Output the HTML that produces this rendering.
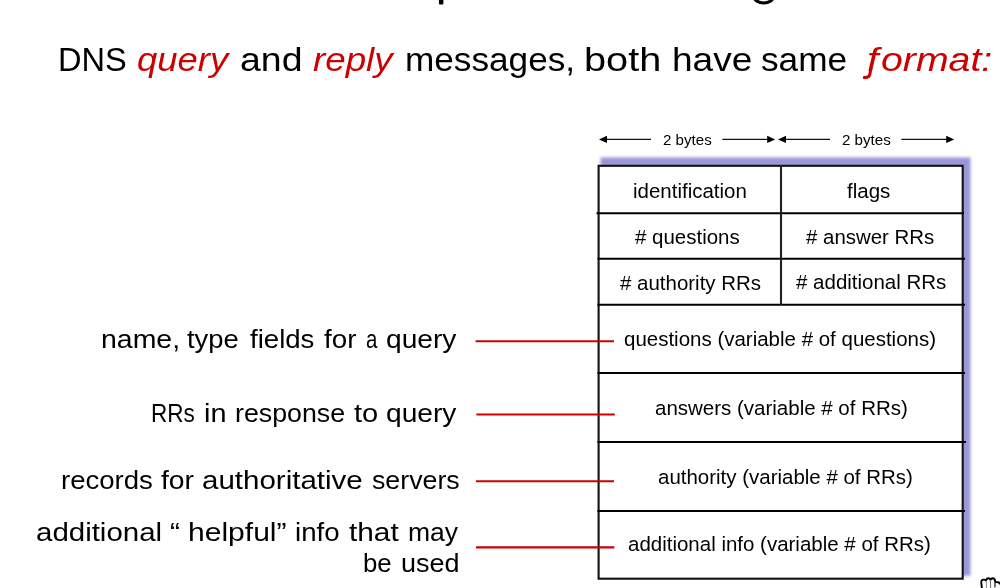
<!DOCTYPE html>
<html><head><meta charset="utf-8">
<style>
html,body{margin:0;padding:0;background:#fff;}
body{width:1000px;height:588px;position:relative;overflow:hidden;font-family:"Liberation Sans",sans-serif;color:#000;}
.t{position:absolute;white-space:nowrap;line-height:1;transform-origin:0 0;}
svg{position:absolute;left:0;top:0;}
</style></head><body>
<svg width="1000" height="588" viewBox="0 0 1000 588">
  <defs><filter id="bl" x="-5%" y="-5%" width="110%" height="110%"><feGaussianBlur stdDeviation="1.6"/></filter></defs>
  <!-- cut-off title descenders -->
  <rect x="438.9" y="-5" width="4.5" height="9.4" rx="1" fill="#000"/>
  <ellipse cx="763.7" cy="-3" rx="9.4" ry="6" fill="none" stroke="#000" stroke-width="3.2"/>
  <path d="M870.8 69 L869.9 74.3 Q869.3 77.9 864.3 77.5" fill="none" stroke="#cc0000" stroke-width="3.0" stroke-linecap="round"/>
  <!-- shadow -->
  <rect x="600.5" y="157.4" width="370" height="418.4" fill="#9a97d9" filter="url(#bl)"/>
  <!-- table -->
  <rect x="598.6" y="165.8" width="364.1" height="412.9" fill="#fff" stroke="#111" stroke-width="2.1"/>
  <g stroke="#000" stroke-width="2" fill="none">
    <line x1="596.5" y1="213.2" x2="964" y2="213.2"/>
    <line x1="597.5" y1="258.8" x2="965" y2="258.8"/>
    <line x1="597.5" y1="304.8" x2="965" y2="304.8"/>
    <line x1="597.5" y1="373.0" x2="965" y2="373.0"/>
    <line x1="597.5" y1="441.95" x2="966" y2="441.95"/>
    <line x1="597.5" y1="510.95" x2="965" y2="510.95"/>
    <line x1="781.0" y1="165" x2="781.0" y2="304.8" stroke="#222" stroke-width="2.1"/>
  </g>
  <g stroke="#cc0000" stroke-width="2.1">
    <line x1="475.6" y1="341.25" x2="614" y2="341.25"/>
    <line x1="476.4" y1="414.55" x2="614.8" y2="414.55"/>
    <line x1="476" y1="481.2" x2="614" y2="481.2"/>
    <line x1="476" y1="547.4" x2="614.3" y2="547.4"/>
  </g>
  <g stroke="#111" stroke-width="1.15" fill="#000">
    <line x1="605" y1="139.4" x2="651" y2="139.4"/>
    <line x1="722.4" y1="139.4" x2="769" y2="139.4"/>
    <line x1="784" y1="139.4" x2="830" y2="139.4"/>
    <line x1="901.4" y1="139.4" x2="948" y2="139.4"/>
    <path d="M599 139.4 l8 -3.6 v7.2z" stroke="none"/>
    <path d="M775.2 139.4 l-8 -3.6 v7.2z" stroke="none"/>
    <path d="M778 139.4 l8 -3.6 v7.2z" stroke="none"/>
    <path d="M954.2 139.4 l-8 -3.6 v7.2z" stroke="none"/>
  </g>
  <!-- grab cursor -->
  <g fill="#fff" stroke="#000" stroke-width="1.9" stroke-linejoin="round" stroke-linecap="round" transform="translate(0,0.9)">
    <path d="M982.2 590 L981.3 582 Q981.1 578.8 983.4 578.7 Q985.2 578.6 986.1 579.6 Q986.6 577.3 988.2 577.3 Q989.9 577.3 990.5 578.9 Q991.1 577.4 992.8 577.4 Q995 577.5 995.3 581 Q996.6 581.2 998 581.3 Q1000.2 581.6 1001 584.5 L1001 590 Z"/>
  </g>
  <g stroke-linecap="round" fill="none" transform="translate(0,0.9)">
    <line x1="986.2" y1="580" x2="986.6" y2="588" stroke="#8a8a8a" stroke-width="1"/>
    <line x1="990.5" y1="579.4" x2="990.6" y2="588" stroke="#777" stroke-width="1.1"/>
    <line x1="995.1" y1="581" x2="994.9" y2="586" stroke="#222" stroke-width="1.3"/>
  </g>
</svg>
<div class="t" style="left:57.56px;top:42.74px;font-size:33.5px;transform:scaleX(0.9720);">DNS</div>
<div class="t" style="left:136.91px;top:42.74px;font-size:33.5px;transform:scaleX(1.0876);font-style:italic;color:#cc0000;">query</div>
<div class="t" style="left:240.13px;top:42.74px;font-size:33.5px;transform:scaleX(1.1171);">and</div>
<div class="t" style="left:313.00px;top:42.74px;font-size:33.5px;transform:scaleX(1.0954);font-style:italic;color:#cc0000;">reply</div>
<div class="t" style="left:404.60px;top:42.74px;font-size:33.5px;transform:scaleX(1.0502);">messages,</div>
<div class="t" style="left:583.88px;top:42.74px;font-size:33.5px;transform:scaleX(1.1857);">both</div>
<div class="t" style="left:671.54px;top:42.74px;font-size:33.5px;transform:scaleX(1.1069);">have</div>
<div class="t" style="left:760.50px;top:42.74px;font-size:33.5px;transform:scaleX(1.0518);">same</div>
<div class="t" style="left:867.37px;top:42.74px;font-size:33.5px;transform:scaleX(1.2333);font-style:italic;color:#cc0000;">f</div>
<div class="t" style="left:880.83px;top:42.74px;font-size:33.5px;transform:scaleX(1.1713);font-style:italic;color:#cc0000;">ormat:</div>
<div class="t" style="left:632.50px;top:180.75px;font-size:20.5px;transform:scaleX(0.9995);">identification</div>
<div class="t" style="left:846.70px;top:180.75px;font-size:20.5px;transform:scaleX(1.0011);">flags</div>
<div class="t" style="left:635.20px;top:226.75px;font-size:20.5px;transform:scaleX(0.9990);"># questions</div>
<div class="t" style="left:806.00px;top:226.75px;font-size:20.5px;transform:scaleX(0.9962);"># answer RRs</div>
<div class="t" style="left:619.80px;top:272.75px;font-size:20.5px;transform:scaleX(0.9984);"># authority RRs</div>
<div class="t" style="left:796.00px;top:271.75px;font-size:20.5px;transform:scaleX(0.9996);"># additional RRs</div>
<div class="t" style="left:624.40px;top:328.75px;font-size:20.5px;transform:scaleX(0.9993);">questions (variable # of questions)</div>
<div class="t" style="left:655.40px;top:397.75px;font-size:20.5px;transform:scaleX(0.9996);">answers (variable # of RRs)</div>
<div class="t" style="left:658.20px;top:466.75px;font-size:20.5px;transform:scaleX(0.9985);">authority (variable # of RRs)</div>
<div class="t" style="left:628.00px;top:533.75px;font-size:20.5px;transform:scaleX(0.9991);">additional info (variable # of RRs)</div>
<div class="t" style="left:663.00px;top:132.06px;font-size:15.4px;transform:scaleX(0.9815);">2 bytes</div>
<div class="t" style="left:842.00px;top:132.06px;font-size:15.4px;transform:scaleX(0.9815);">2 bytes</div>
<div class="t" style="left:100.88px;top:326.51px;font-size:25.5px;transform:scaleX(1.1153);">name,</div>
<div class="t" style="left:187.40px;top:326.51px;font-size:25.5px;transform:scaleX(1.0746);">type</div>
<div class="t" style="left:250.00px;top:326.51px;font-size:25.5px;transform:scaleX(1.0820);">fields</div>
<div class="t" style="left:324.00px;top:326.51px;font-size:25.5px;transform:scaleX(1.0903);">for</div>
<div class="t" style="left:365.60px;top:326.51px;font-size:25.5px;transform:scaleX(0.8000);">a</div>
<div class="t" style="left:386.30px;top:326.51px;font-size:25.5px;transform:scaleX(1.1041);">query</div>
<div class="t" style="left:151.23px;top:400.51px;font-size:25.5px;transform:scaleX(0.8840);">RRs</div>
<div class="t" style="left:203.87px;top:400.51px;font-size:25.5px;transform:scaleX(1.1322);">in</div>
<div class="t" style="left:234.55px;top:400.51px;font-size:25.5px;transform:scaleX(1.0490);">response</div>
<div class="t" style="left:353.80px;top:400.51px;font-size:25.5px;transform:scaleX(1.1383);">to</div>
<div class="t" style="left:386.30px;top:400.51px;font-size:25.5px;transform:scaleX(1.1041);">query</div>
<div class="t" style="left:60.92px;top:467.51px;font-size:25.5px;transform:scaleX(1.0807);">records</div>
<div class="t" style="left:161.40px;top:467.51px;font-size:25.5px;transform:scaleX(1.1101);">for</div>
<div class="t" style="left:202.44px;top:467.51px;font-size:25.5px;transform:scaleX(1.1573);">authoritative</div>
<div class="t" style="left:372.40px;top:467.51px;font-size:25.5px;transform:scaleX(1.0489);">servers</div>
<div class="t" style="left:35.85px;top:519.51px;font-size:25.5px;transform:scaleX(1.1549);">additional</div>
<div class="t" style="left:170.00px;top:519.51px;font-size:25.5px;transform:scaleX(1.1750);">“</div>
<div class="t" style="left:188.42px;top:519.51px;font-size:25.5px;transform:scaleX(1.1784);">helpful”</div>
<div class="t" style="left:295.22px;top:519.51px;font-size:25.5px;transform:scaleX(1.0843);">info</div>
<div class="t" style="left:349.20px;top:519.51px;font-size:25.5px;transform:scaleX(1.1685);">that</div>
<div class="t" style="left:408.46px;top:519.51px;font-size:25.5px;transform:scaleX(1.0396);">may</div>
<div class="t" style="left:363.49px;top:550.51px;font-size:25.5px;transform:scaleX(1.0117);">be</div>
<div class="t" style="left:401.44px;top:550.51px;font-size:25.5px;transform:scaleX(1.0590);">used</div>
</body></html>
